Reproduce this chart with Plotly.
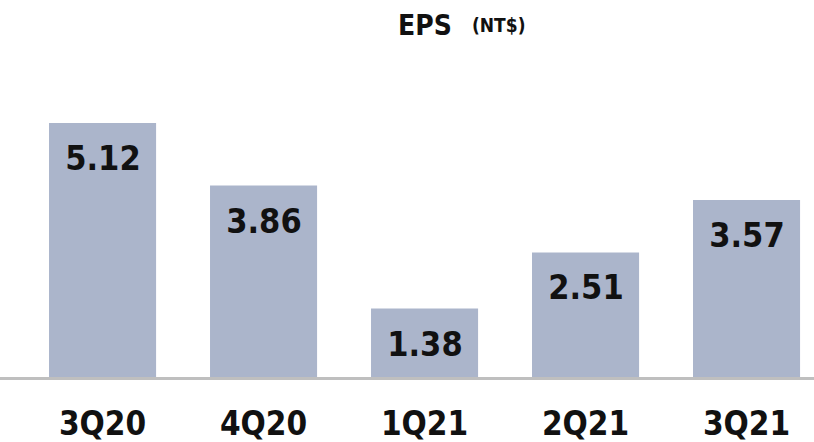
import plotly.graph_objects as go

categories = ["3Q20", "4Q20", "1Q21", "2Q21", "3Q21"]
eps = [5.12, 3.86, 1.38, 2.51, 3.57]
labels = ["5.12", "3.86", "1.38", "2.51", "3.57"]

FONT = "DejaVu Sans"

fig = go.Figure(go.Bar(
    x=categories, y=eps,
    marker=dict(color="#ABB5CB", line=dict(width=0)),
    hoverinfo="skip",
))

for c, v, t in zip(categories, eps, labels):
    fig.add_annotation(x=c, y=v, text="<b>%s</b>" % t, showarrow=False,
                       yanchor="top", yshift=-13,
                       font=dict(family=FONT, size=34, color="#111111"))

fig.add_annotation(xref="paper", yref="paper", x=0.522, y=1.0, yanchor="top",
                   xanchor="center", yshift=-7, showarrow=False,
                   text="<b>EPS</b>", font=dict(family=FONT, size=28, color="#111111"))
fig.add_annotation(xref="paper", yref="paper", x=0.6125, y=1.0, yanchor="top",
                   xanchor="center", yshift=-12, showarrow=False,
                   text="<b>(NT$)</b>", font=dict(family=FONT, size=19, color="#111111"))

fig.update_layout(
    width=814, height=442,
    margin=dict(l=0, r=0, t=0, b=65),
    plot_bgcolor="white", paper_bgcolor="white",
    bargap=0.335, showlegend=False,
    xaxis=dict(range=[-0.637, 4.419], showgrid=False, zeroline=False,
               showline=True, linecolor="#BFBFBF", linewidth=3,
               ticks="", tickfont=dict(family=FONT, size=33, color="#111111"),
               tickprefix="<b>", ticksuffix="</b>", ticklabelstandoff=15),
    yaxis=dict(range=[0, 7.6], visible=False, showgrid=False, zeroline=False),
)

post = """
document.body.style.margin='0px';
var s=document.createElement('style');
s.textContent='text{font-stretch:condensed !important;}';
document.head.appendChild(s);
"""
fig.write_html("out.html", post_script=post, config={"displayModeBar": False})
